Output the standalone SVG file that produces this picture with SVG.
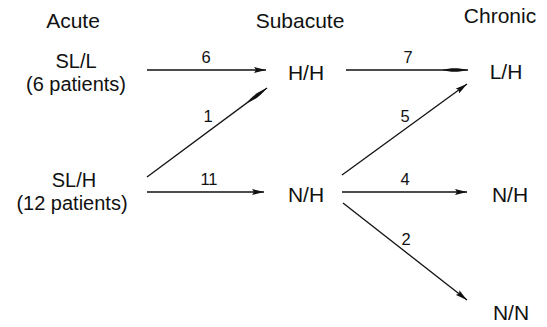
<svg xmlns="http://www.w3.org/2000/svg" width="547" height="327" viewBox="0 0 547 327">
<defs>
<style>
text{font-family:"Liberation Sans",Arial,sans-serif;fill:#111;text-anchor:middle}
.h{font-size:21px}
.n{font-size:21px}
.p{font-size:20px}
.l{font-size:16.5px}
.c line{stroke:#111;stroke-width:1.3}
</style>
<marker id="ah" viewBox="0 0 12 6" refX="12" refY="3" markerWidth="12" markerHeight="6" markerUnits="userSpaceOnUse" orient="auto"><path d="M0,0 L12,3 L0,6 L2,3 Z" fill="#111"/></marker>
<marker id="sp" viewBox="0 0 26 6" refX="26" refY="3" markerWidth="26" markerHeight="6" markerUnits="userSpaceOnUse" orient="auto"><path d="M0,3 C8,0.8 16,0.4 26,3 C16,5.6 8,5.2 0,3 Z" fill="#111"/></marker>
</defs>
<rect width="547" height="327" fill="#fff"/>
<g id="headers">
<text class="h" x="73" y="28">Acute</text>
<text class="h" x="300" y="28">Subacute</text>
<text class="h" x="500" y="23">Chronic</text>
</g>
<g id="acute-sll"><text class="p" x="76" y="68">SL/L</text><text class="p" x="76" y="91">(6 patients)</text></g>
<g id="acute-slh"><text class="p" x="74" y="187">SL/H</text><text class="p" x="72" y="210">(12 patients)</text></g>
<g id="sub-hh"><text class="n" x="306" y="80">H/H</text></g>
<g id="sub-nh"><text class="n" x="306" y="202">N/H</text></g>
<g id="chr-lh"><text class="n" x="506" y="79">L/H</text></g>
<g id="chr-nh"><text class="n" x="510" y="202">N/H</text></g>
<g id="chr-nn"><text class="n" x="511" y="320">N/N</text></g>
<g id="connectors" class="c">
<line x1="147" y1="70" x2="266" y2="70" marker-end="url(#ah)"/>
<line x1="346" y1="70" x2="468" y2="70" marker-end="url(#sp)"/>
<line x1="147" y1="177" x2="267" y2="88" marker-end="url(#sp)"/>
<line x1="147" y1="192" x2="264" y2="192" marker-end="url(#ah)"/>
<line x1="342" y1="175" x2="467" y2="84" marker-end="url(#ah)"/>
<line x1="342" y1="192" x2="467" y2="192" marker-end="url(#ah)"/>
<line x1="343" y1="203" x2="467" y2="300" marker-end="url(#ah)"/>
<text class="l" x="206" y="63">6</text>
<text class="l" x="408" y="63">7</text>
<text class="l" x="208" y="122">1</text>
<text class="l" x="209" y="185">11</text>
<text class="l" x="405" y="122">5</text>
<text class="l" x="405" y="185">4</text>
<text class="l" x="406" y="245">2</text>
</g>
</svg>
